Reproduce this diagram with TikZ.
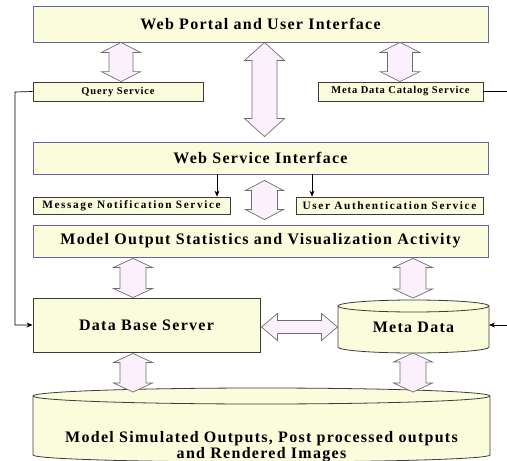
\documentclass[tikz,border=0pt]{standalone}
\usepackage{fontspec}
\setmainfont{Liberation Serif}
\newfontfamily\lblfont[LetterSpace=8]{Liberation Serif}
\newfontfamily\widefont[LetterSpace=14]{Liberation Serif}
\usetikzlibrary{arrows.meta,calc}

\definecolor{boxfill}{RGB}{250,252,220}
\definecolor{boxline}{RGB}{100,100,160}
\definecolor{darkline}{RGB}{60,60,60}
\definecolor{arrowfill}{RGB}{253,240,253}
\definecolor{arrowline}{RGB}{110,110,110}

% vertical double block arrow: x, upper anchor, lower anchor, shaft half, head half, head length
\newcommand\vblock[6]{%
  \draw[blockarrow] let \p1=#2, \p2=#3 in
    ({#1pt},\y1) -- ({#1pt+#5pt},{\y1-#6pt}) -- ({#1pt+#4pt},{\y1-#6pt})
    -- ({#1pt+#4pt},{\y2+#6pt}) -- ({#1pt+#5pt},{\y2+#6pt}) -- ({#1pt},\y2)
    -- ({#1pt-#5pt},{\y2+#6pt}) -- ({#1pt-#4pt},{\y2+#6pt})
    -- ({#1pt-#4pt},{\y1-#6pt}) -- ({#1pt-#5pt},{\y1-#6pt}) -- cycle;}

\begin{document}
\begin{tikzpicture}[x=1pt,y=-1pt,
  blockarrow/.style={draw=arrowline, fill=arrowfill, line width=0.7pt, line join=miter},
  bigbox/.style={draw=boxline, fill=boxfill, line width=0.9pt, inner sep=0pt,
    font=\lblfont\bfseries\fontsize{16}{18}\selectfont},
  smallbox/.style={draw=darkline, fill=boxfill, line width=0.8pt, inner sep=0pt,
    font=\lblfont\bfseries\fontsize{10.5}{12}\selectfont},
  widebox/.style={smallbox, font=\widefont\bfseries\fontsize{11.3}{12}\selectfont},
  cyl/.style={draw=darkline, fill=boxfill, line width=0.8pt},
  cyltext/.style={inner sep=0pt, align=center, font=\lblfont\bfseries\fontsize{16}{15.5}\selectfont},
  link/.style={draw=black, line width=0.7pt},
  linkarrow/.style={link, -{Stealth[length=6pt,width=5pt]}}]
\useasboundingbox (0,0) rectangle (507,461);

% boxes
\node[bigbox, minimum width=455pt, minimum height=36pt] (wp) at (260.5,24) {Web Portal and User Interface};
\node[smallbox, minimum width=170pt, minimum height=19pt] (qs) at (118,91.5) {Query Service};
\node[smallbox, minimum width=165pt, minimum height=19pt] (mdcs) at (400.5,91.5) {Meta Data Catalog Service};
\node[bigbox, minimum width=455pt, minimum height=32pt] (wsi) at (260.5,158) {Web Service Interface};
\node[widebox, minimum width=197pt, minimum height=17pt] (mns) at (131.5,205.5) {Message Notification Service};
\node[widebox, minimum width=187pt, minimum height=17pt] (uas) at (389.5,205.5) {User Authentication Service};
\node[bigbox, minimum width=455pt, minimum height=32pt] (mos) at (260.5,241) {Model Output Statistics and Visualization Activity};
\node[bigbox, draw=darkline, minimum width=227pt, minimum height=54pt] (dbs) at (146.5,325) {Data Base Server};

% meta data store
\path[cyl] (338,306) -- (338,347) arc[start angle=180, end angle=360, x radius=75.5pt, y radius=6pt]
  -- (489,306) arc[start angle=0, end angle=180, x radius=75.5pt, y radius=6pt] -- cycle;
\draw[cyl, fill=none] (338,306) arc[start angle=180, end angle=360, x radius=75.5pt, y radius=6pt];
\node[cyltext] (md) at (413.5,327) {Meta Data};

% model output store
\path[cyl] (33,396) -- (33,455) arc[start angle=180, end angle=360, x radius=228.5pt, y radius=7pt]
  -- (490,396) arc[start angle=0, end angle=180, x radius=228.5pt, y radius=8pt] -- cycle;
\draw[cyl, fill=none] (33,396) arc[start angle=180, end angle=360, x radius=228.5pt, y radius=8pt];
\node[cyltext] (mso) at (261.5,446.5)
  {Model Simulated Outputs, Post processed outputs\\and Rendered Images};

% block arrows
\vblock{121}{(wp.south)}{(qs.north)}{12}{19.5}{10}
\vblock{400}{(wp.south)}{(mdcs.north)}{12.5}{20}{10}
\vblock{264.5}{(wp.south)}{([yshift=5pt]wsi.north)}{12.5}{20}{18}
\vblock{264.5}{([yshift=-6pt]wsi.south)}{([yshift=5pt]mos.north)}{13}{19}{10}
\vblock{133}{([yshift=-1pt]mos.south)}{(dbs.north)}{13}{19.5}{9}
\vblock{413}{([yshift=-1pt]mos.south)}{(413,298)}{13}{19.5}{9}
\vblock{133}{([yshift=-1pt]dbs.south)}{(133,392)}{13}{19.5}{9}
\vblock{413}{(413,353)}{(413,392)}{13}{19.5}{9}

% horizontal double block arrow between the database server and the meta data
\draw[blockarrow] let \p1=([xshift=1pt]dbs.east), \p2=(337.5,327) in
  (\x1,\y2) -- ({\x1+16pt},{\y2-13.5pt}) -- ({\x1+16pt},{\y2-6.5pt}) -- ({\x2-16pt},{\y2-6.5pt})
  -- ({\x2-16pt},{\y2-13.5pt}) -- (\x2,\y2) -- ({\x2-16pt},{\y2+13.5pt}) -- ({\x2-16pt},{\y2+6.5pt})
  -- ({\x1+16pt},{\y2+6.5pt}) -- ({\x1+16pt},{\y2+13.5pt}) -- cycle;

% thin connectors
\coordinate (qbend) at (15,92);
\coordinate (dbend) at (15,325);
\draw[linkarrow] (qs.west) -- (qbend) -- (dbend) -- (dbs.west);
\coordinate (mout) at (507,91.5);
\coordinate (min) at (507,325);
\draw[link] (mdcs.east) -- (mout);
\draw[linkarrow] (min) -- (489,325);
\draw[linkarrow] (wsi.south -| 217,0) -- (mns.north -| 217,0);
\draw[linkarrow] (wsi.south -| 312,0) -- (uas.north -| 312,0);
\end{tikzpicture}
\end{document}
